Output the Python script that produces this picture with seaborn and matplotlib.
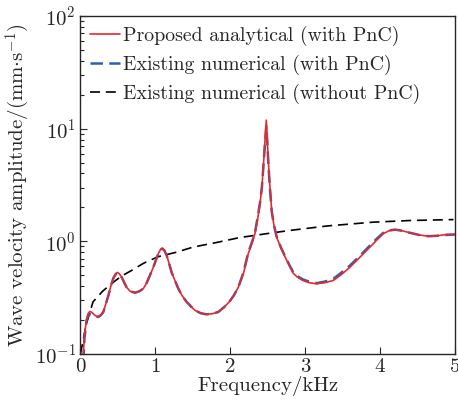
import matplotlib
matplotlib.use("Agg")
import matplotlib.pyplot as plt
import seaborn as sns
import pandas as pd

# Frequency samples (kHz) and wave velocity amplitudes (mm/s), beam with PnC
freq_pnc = [0.044, 0.06, 0.089, 0.11, 0.133, 0.165, 0.2, 0.244, 0.28, 0.311,
            0.345, 0.378, 0.411, 0.444, 0.475, 0.498, 0.525, 0.556, 0.59, 0.622,
            0.67, 0.733, 0.79, 0.844, 0.89, 0.933, 0.978, 1.044, 1.075, 1.098,
            1.125, 1.156, 1.19, 1.222, 1.265, 1.311, 1.36, 1.422, 1.48, 1.533,
            1.61, 1.689, 1.77, 1.844, 1.92, 1.99, 2.05, 2.11, 2.18, 2.244,
            2.29, 2.333, 2.37, 2.4, 2.425, 2.444, 2.467, 2.484, 2.497, 2.511,
            2.53, 2.556, 2.585, 2.622, 2.68, 2.733, 2.79, 2.844, 2.9, 2.97,
            3.05, 3.156, 3.27, 3.378, 3.49, 3.6, 3.73, 3.867, 3.96, 4.044,
            4.12, 4.2, 4.3, 4.4, 4.52, 4.644, 4.76, 4.889, 5.0]
amp_analytical = [0.10, 0.15, 0.206, 0.23, 0.239, 0.232, 0.22, 0.213, 0.222, 0.236,
                  0.28, 0.33, 0.40, 0.47, 0.515, 0.53, 0.515, 0.48, 0.43, 0.39,
                  0.36, 0.35, 0.36, 0.38, 0.43, 0.50, 0.59, 0.78, 0.85, 0.87,
                  0.83, 0.75, 0.63, 0.53, 0.45, 0.38, 0.33, 0.29, 0.264, 0.244,
                  0.23, 0.225, 0.228, 0.236, 0.26, 0.29, 0.33, 0.39, 0.52, 0.78,
                  0.95, 1.17, 1.6, 2.16, 3.0, 4.57, 7.9, 11.9, 8.0, 5.2,
                  3.2, 1.88, 1.4, 1.09, 0.87, 0.73, 0.61, 0.52, 0.48, 0.45,
                  0.43, 0.42, 0.43, 0.45, 0.51, 0.59, 0.72, 0.89, 1.03, 1.17,
                  1.24, 1.27, 1.24, 1.19, 1.14, 1.11, 1.12, 1.15, 1.15]
amp_numerical = [0.085, 0.14, 0.20, 0.22, 0.226, 0.225, 0.218, 0.213, 0.222, 0.236,
                 0.28, 0.33, 0.40, 0.47, 0.51, 0.525, 0.51, 0.48, 0.43, 0.39,
                 0.36, 0.35, 0.36, 0.38, 0.43, 0.50, 0.59, 0.78, 0.85, 0.86,
                 0.83, 0.75, 0.63, 0.53, 0.45, 0.38, 0.33, 0.29, 0.264, 0.244,
                 0.23, 0.225, 0.228, 0.236, 0.26, 0.29, 0.33, 0.39, 0.53, 0.80,
                 0.97, 1.2, 1.65, 2.2, 3.0, 4.5, 7.4, 10.5, 7.6, 5.0,
                 3.1, 1.85, 1.4, 1.1, 0.88, 0.74, 0.62, 0.53, 0.49, 0.46,
                 0.44, 0.425, 0.44, 0.465, 0.53, 0.61, 0.74, 0.92, 1.06, 1.19,
                 1.25, 1.27, 1.24, 1.19, 1.14, 1.11, 1.12, 1.14, 1.15]

# Beam without PnC
freq_bare = [0.005, 0.04, 0.08, 0.173, 0.30, 0.418, 0.55, 0.684, 0.85, 1.04,
             1.284, 1.51, 1.8, 2.13, 2.49, 2.8, 3.3, 3.91, 4.4, 4.98]
amp_bare = [0.10, 0.13, 0.18, 0.29, 0.36, 0.42, 0.49, 0.55, 0.64, 0.73,
            0.80, 0.89, 0.97, 1.08, 1.17, 1.25, 1.37, 1.48, 1.53, 1.56]

x_ticks = [0, 1, 2, 3, 4, 5]

sns.set_style("ticks")
plt.rcParams["font.family"] = ["cmr10", "DejaVu Serif"]
plt.rcParams["mathtext.fontset"] = "cm"
plt.rcParams["axes.formatter.use_mathtext"] = True
plt.rcParams["axes.unicode_minus"] = False

FS = 15
FS_LEG = 14.3

fig = plt.figure(figsize=(4.58, 4.03), dpi=100)
ax = fig.add_axes([0.1747, 0.1216, 0.8187, 0.8387])

df_pnc = pd.DataFrame({"f": freq_pnc, "a": amp_analytical, "n": amp_numerical})
df_bare = pd.DataFrame({"f": freq_bare, "a": amp_bare})

sns.lineplot(data=df_pnc, x="f", y="a", ax=ax, color="#e8282a", lw=1.2,
             label="Proposed analytical (with PnC)", zorder=4)
sns.lineplot(data=df_pnc, x="f", y="n", ax=ax, color="#2f5fb0", lw=1.8,
             label="Existing numerical (with PnC)", zorder=3)
ax.lines[-1].set_dashes([5, 2.5])
sns.lineplot(data=df_bare, x="f", y="a", ax=ax, color="black", lw=1.2,
             label="Existing numerical (without PnC)", zorder=2)
ax.lines[-1].set_dashes([6, 3.5])

ax.set_yscale("log")
ax.set_ylim(0.1, 100)
ax.set_xlim(0, 5)
ax.set_xticks(x_ticks)
ax.set_xticklabels([str(t) for t in x_ticks])

ax.tick_params(axis="both", which="both", direction="in", labelsize=FS)
ax.tick_params(axis="both", which="major", length=5, width=0.8, pad=3)
ax.tick_params(axis="y", which="minor", length=3, width=0.8)
for s in ax.spines.values():
    s.set_linewidth(1.0)

ax.set_xlabel("Frequency/kHz", fontsize=FS, labelpad=0)
ax.set_ylabel(r"Wave velocity amplitude/(mm$\cdot$s$^{-1}$)", fontsize=FS, labelpad=2)

leg = ax.legend(loc="upper left", frameon=False, fontsize=FS_LEG,
                handlelength=1.5, handletextpad=0.15, labelspacing=0.45,
                borderaxespad=0.2, borderpad=0.3)

fig.savefig("out.png", dpi=100)
